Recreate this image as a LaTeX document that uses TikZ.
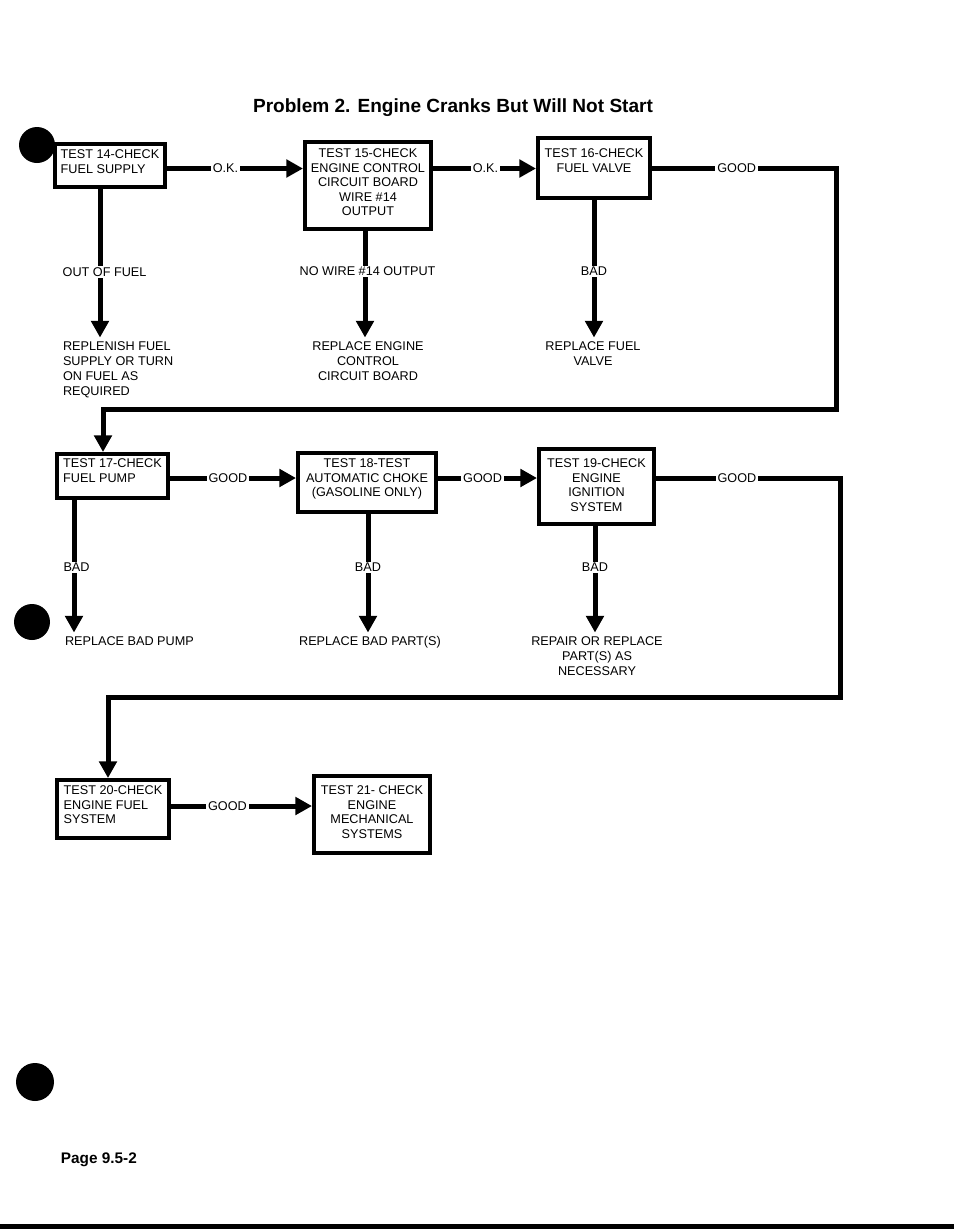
\documentclass[tikz,border=0pt]{standalone}
\usepackage{fontspec}
\setmainfont{Liberation Sans}
\usetikzlibrary{arrows.meta}

\tikzset{every picture/.style={line width=0.75pt}}
\tikzset{
  test/.style={draw, line width=3pt, fill=white, inner xsep=0pt, inner ysep=0pt, anchor=north west, font=\fontsize{9.5}{10.9}\selectfont},
  res/.style={inner sep=0pt, outer xsep=0pt, outer ysep=3pt, font=\fontsize{9.5}{11.2}\selectfont},
  lbl/.style={fill=white, inner xsep=1.5pt, inner ysep=1pt, font=\fontsize{9.5}{11}\selectfont},
  flow/.style={line width=3.75pt},
  arr/.style={flow, -{Triangle[width=13pt,length=12.5pt]}},
  hole/.style={fill=black}
}

\begin{document}
\begin{tikzpicture}[x=0.75pt,y=0.75pt,yscale=-1]
	\useasboundingbox (0,0) rectangle (954,1229);
	
	% punch holes and page edge
	\fill[hole] (37,145) circle (18);
	\fill[hole] (32,622) circle (18);
	\fill[hole] (35,1082) circle (19);
	\fill (0,1224) rectangle (954,1229);
	
	% title
	\node[font=\fontsize{14.3}{17}\selectfont\bfseries, anchor=base] (title) at (453,112.5) {Problem 2. Engine Cranks But Will Not Start};
	
	% rows and drop lines
	\coordinate (h1) at (0,168.5);
	\coordinate (h2) at (0,478);
	\coordinate (h3) at (0,806);
	\coordinate (d14) at (100,0);
	\coordinate (d15) at (365,0);
	\coordinate (d16) at (594,0);
	\coordinate (d17) at (74,0);
	\coordinate (d18) at (368,0);
	\coordinate (d19) at (595,0);
	\coordinate (k1) at (836,409);
	\coordinate (e17) at (103,0);
	\coordinate (k2) at (840,697);
	\coordinate (e20) at (108,0);
	
	% Test boxes (text height runs to the last baseline)
	\node[test, align=left, minimum width=82.5pt, text height=21.8pt, text depth=10.5pt] (t14) at (53,142) {TEST 14-CHECK\\FUEL SUPPLY};
	\node[test, align=center, minimum width=94.5pt, text height=55.2pt, text depth=10.05pt] (t15) at (303,140) {TEST 15-CHECK\\ENGINE CONTROL\\CIRCUIT BOARD\\WIRE \#14\\OUTPUT};
	\node[test, align=center, minimum width=84pt, text height=25.5pt, text depth=19.5pt] (t16) at (536,136) {TEST 16-CHECK\\FUEL VALVE};
	\node[test, align=left, minimum width=83.25pt, text height=21pt, text depth=12pt] (t17) at (55,452) {TEST 17-CHECK\\FUEL PUMP};
	\node[test, align=center, minimum width=103.5pt, text height=32.7pt, text depth=11.6pt] (t18) at (296,451) {TEST 18-TEST\\AUTOMATIC CHOKE\\(GASOLINE ONLY)};
	\node[test, align=center, minimum width=86.25pt, text height=46.6pt, text depth=9.7pt] (t19) at (537,447) {TEST 19-CHECK\\ENGINE\\IGNITION\\SYSTEM};
	\node[test, align=left, minimum width=84pt, text height=32.7pt, text depth=10.8pt] (t20) at (55,778) {TEST 20-CHECK\\ENGINE FUEL\\SYSTEM};
	\node[test, align=center, minimum width=87pt, text height=46.6pt, text depth=11.2pt] (t21) at (312,774) {TEST 21- CHECK\\ENGINE\\MECHANICAL\\SYSTEMS};
	
	% Results
	\node[res, align=left, anchor=north west] (r14) at (63,337.5) {REPLENISH FUEL\\SUPPLY OR TURN\\ON FUEL AS\\REQUIRED};
	\node[res, align=center, anchor=north] (r15) at (368,337.5) {REPLACE ENGINE\\CONTROL\\CIRCUIT BOARD};
	\node[res, align=center, anchor=north] (r16) at (593,337.5) {REPLACE FUEL\\VALVE};
	\node[res, align=left, anchor=north west] (r17) at (65,632.5) {REPLACE BAD PUMP};
	\node[res, align=center, anchor=north] (r18) at (370,632.5) {REPLACE BAD PART(S)};
	\node[res, align=center, anchor=north] (r19) at (597,632.5) {REPAIR OR REPLACE\\PART(S) AS\\NECESSARY};
	
	% row 1
	\draw[arr] (t14.east |- h1) -- node[lbl,pos=0.43]{O.K.} (t15.west |- h1);
	\draw[arr] (t15.east |- h1) -- node[lbl,pos=0.51]{O.K.} (t16.west |- h1);
	\draw[arr] (t16.east |- h1) -- node[lbl,pos=0.46]{GOOD} (k1 |- h1) -- (k1) -- (k1 -| e17) -- (t17.north -| e17);
	\draw[arr] (t14.south -| d14) -- node[lbl,pos=0.56,xshift=3.4pt]{OUT OF FUEL} (r14.north -| d14);
	\draw[arr] (t15.south -| d15) -- node[lbl,pos=0.38,xshift=1.9pt]{NO WIRE \#14 OUTPUT} (r15.north -| d15);
	\draw[arr] (t16.south -| d16) -- node[lbl,pos=0.52]{BAD} (r16.north -| d16);
	
	% row 2
	\draw[arr] (t17.east |- h2) -- node[lbl,pos=0.46]{GOOD} (t18.west |- h2);
	\draw[arr] (t18.east |- h2) -- node[lbl,pos=0.45]{GOOD} (t19.west |- h2);
	\draw[arr] (t19.east |- h2) -- node[lbl,pos=0.44]{GOOD} (k2 |- h2) -- (k2) -- (k2 -| e20) -- (t20.north -| e20);
	\draw[arr] (t17.south -| d17) -- node[lbl,pos=0.51,xshift=1.9pt]{BAD} (r17.north -| d17);
	\draw[arr] (t18.south -| d18) -- node[lbl,pos=0.45]{BAD} (r18.north -| d18);
	\draw[arr] (t19.south -| d19) -- node[lbl,pos=0.39]{BAD} (r19.north -| d19);
	
	% row 3
	\draw[arr] (t20.east |- h3) -- node[lbl,pos=0.40]{GOOD} (t21.west |- h3);
	
	% footer
	\node[font=\fontsize{11.5}{14}\selectfont\bfseries, anchor=base west] (page) at (56,1163) {Page 9.5-2};
\end{tikzpicture}
\end{document}
